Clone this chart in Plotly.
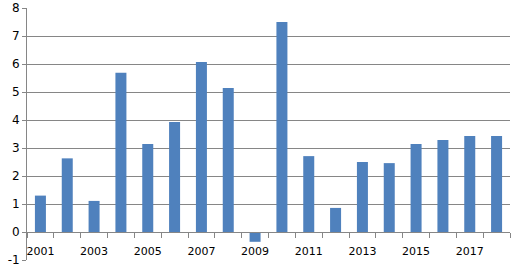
import plotly.graph_objects as go

years = list(range(2001, 2019))
values = [1.3, 2.63, 1.11, 5.69, 3.14, 3.93, 6.07, 5.14, -0.35, 7.5,
          2.71, 0.86, 2.5, 2.46, 3.14, 3.29, 3.43, 3.43]
x_tick_labels = ["2001", "2003", "2005", "2007", "2009", "2011", "2013", "2015", "2017"]
x_tick_vals = [int(t) for t in x_tick_labels]
y_ticks = list(range(-1, 9))
y_tick_labels = [str(v) for v in y_ticks]

GRID = "#868686"
fig = go.Figure(go.Bar(x=years, y=values, marker_color="#4F81BD",
                       marker_line_width=0, width=0.41))

fig.update_layout(
    width=520, height=273,
    margin=dict(l=27, r=10, t=8, b=13),
    plot_bgcolor="white", paper_bgcolor="white",
    font=dict(family="DejaVu Sans", size=11, color="black"),
    showlegend=False,
)
fig.update_xaxes(
    range=[2000.5, 2018.5], automargin=False,
    tickmode="array", tickvals=x_tick_vals, ticktext=x_tick_labels,
    ticks="outside", ticklen=9, tickcolor="rgba(0,0,0,0)", showgrid=False,
    showline=True, linecolor=GRID, linewidth=1,
    anchor="free", position=1/9,
    minor=dict(ticks="outside", tick0=2000.5, dtick=1, ticklen=5,
               tickcolor=GRID, showgrid=False),
    zeroline=False,
)
fig.update_yaxes(
    range=[-1, 8], automargin=False,
    tickmode="array", tickvals=y_ticks, ticktext=y_tick_labels,
    showgrid=True, gridcolor=GRID, gridwidth=1,
    zeroline=False,
    showline=True, linecolor=GRID, linewidth=1,
    ticks="outside", ticklen=4, tickcolor=GRID,
    tickfont=dict(size=12),
)
fig.write_html("out.html")
